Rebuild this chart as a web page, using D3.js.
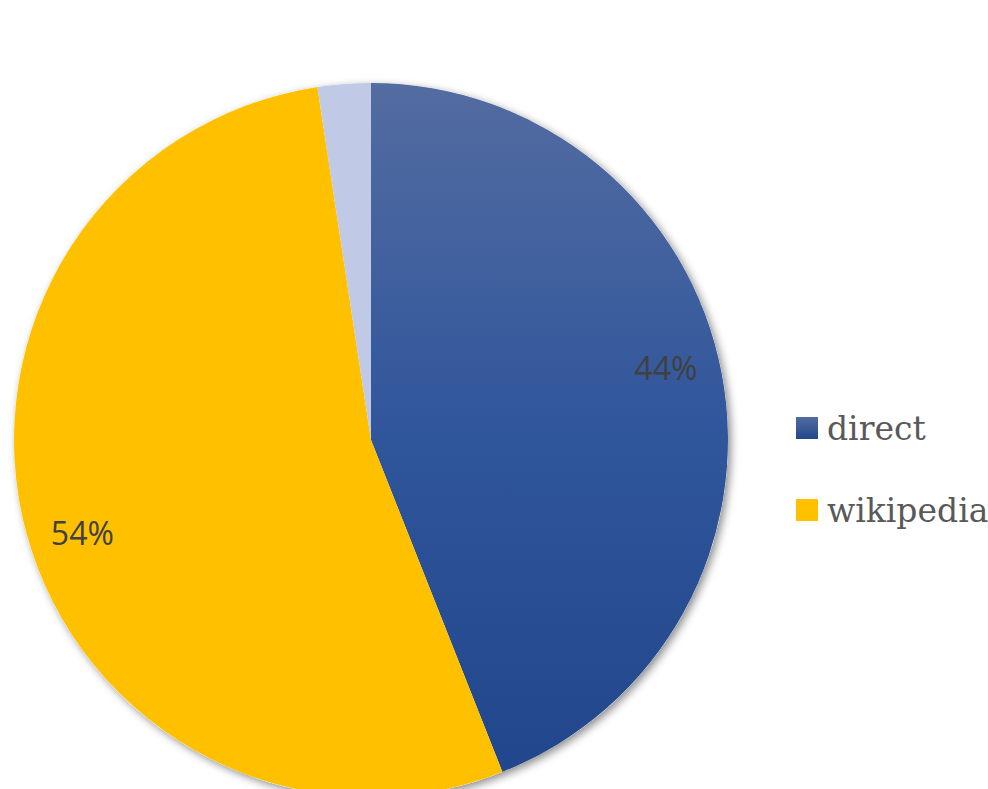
<!DOCTYPE html>
<html>
<head>
<meta charset="utf-8">
<script src="https://cdn.jsdelivr.net/npm/d3@7"></script>
<style>
    body { margin: 0; background: #fff; }
    .pct { font-family: "Open Sans", "Liberation Sans", sans-serif; font-size: 32px; fill: #404040; }
    .leg { font-family: "DejaVu Serif", "Liberation Serif", serif; font-size: 33px; fill: #595959; }
</style>
</head>
<body>
<div id="chartdiv"></div>
<script>
    // data
    const categories = ["direct", "wikipedia", "other"];
    const shares = [44.0, 53.6, 2.4];
    const legendItems = ["direct", "wikipedia"];

    const width = 988, height = 789;
    const cx = 371, cy = 440, radius = 357;

    const svg = d3.select("#chartdiv").append("svg")
        .attr("width", width)
        .attr("height", height);

    const defs = svg.append("defs");

    // gradient coords are in the pie group's own space (centered at 0,0)
    const grad = defs.append("linearGradient")
        .attr("id", "blueGrad")
        .attr("gradientUnits", "userSpaceOnUse")
        .attr("x1", 0).attr("y1", -radius)
        .attr("x2", 0).attr("y2", radius);
    grad.append("stop").attr("offset", "0%").attr("stop-color", "#536ca1");
    grad.append("stop").attr("offset", "50%").attr("stop-color", "#2f559b");
    grad.append("stop").attr("offset", "100%").attr("stop-color", "#20458a");

    const legGrad = defs.append("linearGradient")
        .attr("id", "blueGradLeg")
        .attr("x1", 0).attr("y1", 0).attr("x2", 0).attr("y2", 1);
    legGrad.append("stop").attr("offset", "0%").attr("stop-color", "#536ca1");
    legGrad.append("stop").attr("offset", "100%").attr("stop-color", "#22478b");

    const shadow = defs.append("filter")
        .attr("id", "shadow")
        .attr("x", "-10%").attr("y", "-10%")
        .attr("width", "120%").attr("height", "120%");
    shadow.append("feDropShadow")
        .attr("dx", 3).attr("dy", 3)
        .attr("stdDeviation", 4)
        .attr("flood-color", "#000")
        .attr("flood-opacity", 0.45);

    const color = d3.scaleOrdinal()
        .domain(categories)
        .range(["url(#blueGrad)", "#ffc000", "#c0c9e5"]);

    const legendColor = d3.scaleOrdinal()
        .domain(categories)
        .range(["url(#blueGradLeg)", "#ffc000", "#c0c9e5"]);

    const table = categories.map((c, i) => ({name: c, value: shares[i]}));
    const total = d3.sum(shares);

    const pie = d3.pie().sort(null).value(d => d.value);
    const arc = d3.arc().innerRadius(0).outerRadius(radius);
    const labelR = radius * 0.85;

    const g = svg.append("g").attr("transform", `translate(${cx},${cy})`);

    const arcs = pie(table);

    // shadow disc under the slices
    g.append("circle")
        .attr("r", radius)
        .attr("fill", "#fff")
        .attr("filter", "url(#shadow)");

    g.selectAll("path.slice")
        .data(arcs)
        .join("path")
        .attr("class", "slice")
        .attr("d", arc)
        .attr("fill", d => color(d.data.name));

    g.selectAll("text.pct")
        .data(arcs.filter(d => d.data.value / total > 0.05))
        .join("text")
        .attr("class", "pct")
        .attr("transform", d => {
            const a = (d.startAngle + d.endAngle) / 2 - 0.05;
            return `translate(${labelR * Math.sin(a)},${-labelR * Math.cos(a)})`;
        })
        .attr("text-anchor", "middle")
        .attr("dy", "0.35em")
        .text(d => d3.format(".0%")(d.data.value / total));

    // legend
    const legend = svg.append("g").attr("transform", "translate(796,417)");
    const item = legend.selectAll("g")
        .data(legendItems)
        .join("g")
        .attr("transform", (d, i) => `translate(0,${i * 82})`);
    item.append("rect")
        .attr("width", 22).attr("height", 22)
        .attr("fill", d => legendColor(d));
    item.append("text")
        .attr("class", "leg")
        .attr("x", 31)
        .attr("y", 23)
        .text(d => d);
</script>
</body>
</html>
